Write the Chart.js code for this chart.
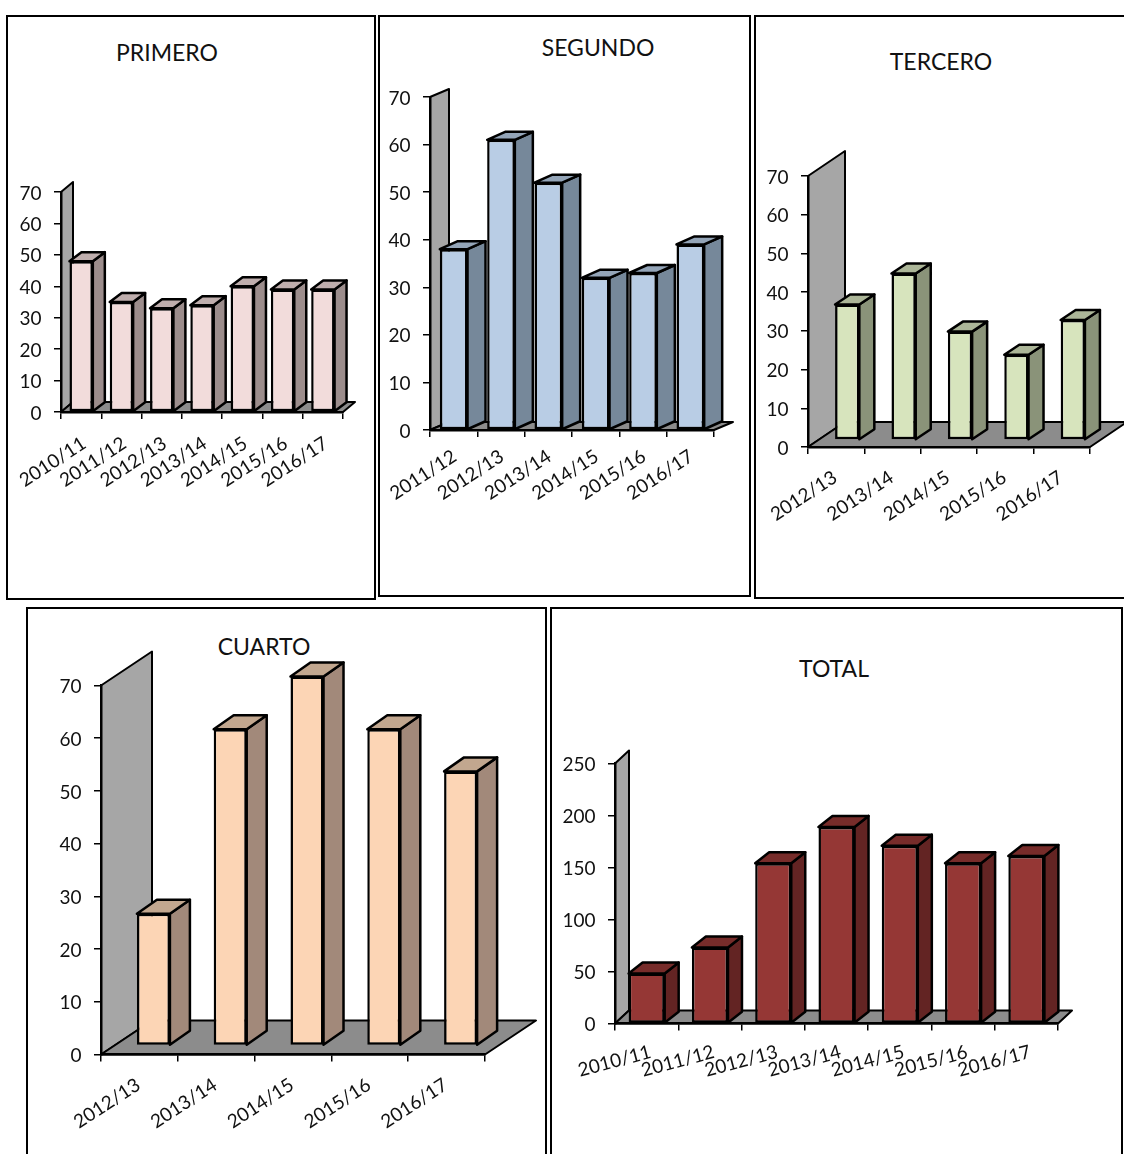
<!DOCTYPE html>
<html>
<head>
<meta charset="utf-8">
<title>Cursos</title>
<script src="https://cdn.jsdelivr.net/npm/chart.js@4"></script>
<style>
    html, body { margin: 0; padding: 0; background: #fff; overflow: hidden; width: 1124px; height: 1154px; }
    .panel { position: absolute; box-sizing: border-box; border: 2px solid #000; overflow: hidden; }
    .panel canvas { position: absolute; left: 0; top: 0; }
    .panel .title { position: absolute; font: 23px Lato, sans-serif; color: #111; transform: translateX(-50%); white-space: nowrap; line-height: 26px; }
</style>
</head>
<body>
<script>
// Chart data
const labelsPrimero = ['2010/11', '2011/12', '2012/13', '2013/14', '2014/15', '2015/16', '2016/17'];
const valuesPrimero = [48, 35, 33, 34, 40, 39, 39];

const labelsSegundo = ['2011/12', '2012/13', '2013/14', '2014/15', '2015/16', '2016/17'];
const valuesSegundo = [38, 61, 52, 32, 33, 39];

const labelsTercero = ['2012/13', '2013/14', '2014/15', '2015/16', '2016/17'];
const valuesTercero = [35, 43, 28, 22, 31];

const labelsCuarto = ['2012/13', '2013/14', '2014/15', '2015/16', '2016/17'];
const valuesCuarto = [25, 60, 70, 60, 52];

const labelsTotal = ['2010/11', '2011/12', '2012/13', '2013/14', '2014/15', '2015/16', '2016/17'];
const valuesTotal = [48, 73, 154, 189, 171, 154, 161];

const FONT = 'Lato, sans-serif';

// Draws the Excel style 3D look around the normal Chart.js bars
const box3d = {
    id: 'box3d',
    beforeDraw(chart, args, o) {
        const { ctx, chartArea: a } = chart;
        ctx.save();
        ctx.lineWidth = 2;
        ctx.strokeStyle = '#000';
        ctx.lineJoin = 'round';
        // back wall
        ctx.fillStyle = '#a6a6a6';
        poly(ctx, [[a.left, a.bottom], [a.left, a.top], [a.left + o.wallDx, a.top - o.wallDy], [a.left + o.wallDx, a.bottom - o.wallDy]]);
        // floor
        ctx.fillStyle = '#8c8c8c';
        poly(ctx, [[a.left, a.bottom], [a.right, a.bottom], [a.right + o.wallDx, a.bottom - o.wallDy], [a.left + o.wallDx, a.bottom - o.wallDy]]);
        ctx.restore();
    },
    beforeDatasetsDraw(chart, args, o) {
        const { ctx } = chart;
        ctx.save();
        ctx.translate(o.gapDx, -o.gapDy);
        ctx.lineWidth = 2.5;
        ctx.strokeStyle = '#000';
        ctx.lineJoin = 'round';
        chart.getDatasetMeta(0).data.forEach(bar => {
            const { x, y, width, base } = bar.getProps(['x', 'y', 'width', 'base'], true);
            const l = x - width / 2, r = x + width / 2;
            // side face
            ctx.fillStyle = o.side;
            poly(ctx, [[r, y], [r + o.barDx, y - o.barDy], [r + o.barDx, base - o.barDy], [r, base]]);
            // top face
            ctx.fillStyle = o.top;
            poly(ctx, [[l, y], [l + o.barDx, y - o.barDy], [r + o.barDx, y - o.barDy], [r, y]]);
        });
        // the front face is the real bar, moved with the same offset
    },
    afterDatasetsDraw(chart) {
        chart.ctx.restore();
    }
};

function poly(ctx, pts) {
    ctx.beginPath();
    pts.forEach((p, i) => i ? ctx.lineTo(p[0], p[1]) : ctx.moveTo(p[0], p[1]));
    ctx.closePath();
    ctx.fill();
    ctx.stroke();
}

// One bordered panel with title and chart. All coordinates are page pixels.
function makePanel(cfg) {
    const panel = document.createElement('div');
    panel.className = 'panel';
    panel.style.left = cfg.box[0] + 'px';
    panel.style.top = cfg.box[1] + 'px';
    panel.style.width = (cfg.box[2] - cfg.box[0]) + 'px';
    panel.style.height = (cfg.box[3] - cfg.box[1]) + 'px';
    document.body.appendChild(panel);

    const innerL = cfg.box[0] + 2, innerT = cfg.box[1] + 2;
    const w = cfg.box[2] - cfg.box[0] - 4, h = cfg.box[3] - cfg.box[1] - 4;

    const title = document.createElement('div');
    title.className = 'title';
    title.textContent = cfg.title;
    title.style.left = (cfg.titleAt[0] - innerL) + 'px';
    title.style.top = (cfg.titleAt[1] - innerT - 13) + 'px';
    panel.appendChild(title);

    const canvas = document.createElement('canvas');
    canvas.width = w;
    canvas.height = h;
    panel.appendChild(canvas);

    const [x0, x1, yTop, y0] = cfg.plot;

    new Chart(canvas.getContext('2d'), {
        type: 'bar',
        data: {
            labels: cfg.labels,
            datasets: [{
                data: cfg.values,
                backgroundColor: cfg.front,
                borderColor: '#000',
                borderWidth: 2.5,
                borderSkipped: false,
                categoryPercentage: 1,
                barPercentage: cfg.barPct,
                clip: false
            }]
        },
        options: {
            responsive: false,
            animation: false,
            layout: {
                autoPadding: false,
                padding: { top: yTop - innerT, right: w - (x1 - innerL), bottom: 0, left: 0 }
            },
            scales: {
                x: {
                    afterFit(scale) {
                        scale.height = h - (y0 - innerT);
                        // rotated labels must not push the plot sideways
                        scale.paddingLeft = 0;
                        scale.paddingRight = 0;
                    },
                    grid: { offset: true, drawOnChartArea: false, color: '#000', lineWidth: 1.5, tickLength: 7 },
                    border: { color: '#000', width: 2.5 },
                    ticks: {
                        autoSkip: false,
                        minRotation: cfg.rotation,
                        maxRotation: cfg.rotation,
                        padding: cfg.xPadding,
                        labelOffset: cfg.xShift,
                        color: '#111',
                        font: { family: FONT, size: cfg.tickSize }
                    }
                },
                y: {
                    min: 0,
                    max: cfg.max,
                    afterFit(scale) { scale.width = x0 - innerL; },
                    grid: { drawOnChartArea: false, color: '#000', lineWidth: 1.5, tickLength: 7 },
                    border: { color: '#000', width: 2.5 },
                    ticks: {
                        stepSize: cfg.step,
                        padding: 12.5,
                        labelOffset: 1.5,
                        color: '#111',
                        font: { family: FONT, size: cfg.tickSize }
                    }
                }
            },
            plugins: {
                legend: { display: false },
                tooltip: { enabled: false },
                box3d: {
                    wallDx: cfg.wall[0], wallDy: cfg.wall[1],
                    barDx: cfg.depth[0], barDy: cfg.depth[1],
                    gapDx: cfg.gap[0], gapDy: cfg.gap[1],
                    side: cfg.side, top: cfg.top
                }
            }
        },
        plugins: [box3d]
    });
}

makePanel({
    title: 'PRIMERO', titleAt: [167, 52], box: [6, 15, 376, 600],
    labels: labelsPrimero, values: valuesPrimero,
    plot: [61, 343, 192, 412], max: 70, step: 10,
    wall: [12, 10], depth: [12, 9], gap: [0, 0], barPct: 0.58,
    front: '#f2dcdb', side: '#9c8d8c', top: '#bfaead',
    tickSize: 19, rotation: 33, xPadding: 13, xShift: 3
});

makePanel({
    title: 'SEGUNDO', titleAt: [598, 47], box: [378, 15, 751, 597],
    labels: labelsSegundo, values: valuesSegundo,
    plot: [430, 714, 97, 430], max: 70, step: 10,
    wall: [19, 8], depth: [18, 8], gap: [0, 0], barPct: 0.585,
    front: '#b9cde5', side: '#76889a', top: '#94a5b8',
    tickSize: 19, rotation: 33, xPadding: 8, xShift: 1
});

makePanel({
    title: 'TERCERO', titleAt: [941, 61], box: [754, 15, 1140, 599],
    labels: labelsTercero, values: valuesTercero,
    plot: [808, 1090, 176, 447], max: 70, step: 10,
    wall: [37, 25], depth: [15, 10], gap: [11, 7], barPct: 0.43,
    front: '#d7e4bd', side: '#8a9379', top: '#acb698',
    tickSize: 19, rotation: 33, xPadding: 12, xShift: -1
});

makePanel({
    title: 'CUARTO', titleAt: [264, 646], box: [26, 607, 547, 1180],
    labels: labelsCuarto, values: valuesCuarto,
    plot: [101, 485, 685.5, 1054.5], max: 70, step: 10,
    wall: [51, 34], depth: [20, 14], gap: [14, 9], barPct: 0.43,
    front: '#fcd5b5', side: '#a2897a', top: '#c2a78f',
    tickSize: 19, rotation: 33, xPadding: 12, xShift: -1
});

makePanel({
    title: 'TOTAL', titleAt: [834, 668], box: [550, 607, 1123, 1180],
    labels: labelsTotal, values: valuesTotal,
    plot: [615, 1058, 763.5, 1023.5], max: 250, step: 50,
    wall: [14, 13], depth: [14, 11], gap: [0, 0], barPct: 0.57,
    front: '#953735', side: '#632423', top: '#772c2a',
    tickSize: 19, rotation: 15, xPadding: 10, xShift: 4
});
</script>
</body>
</html>
